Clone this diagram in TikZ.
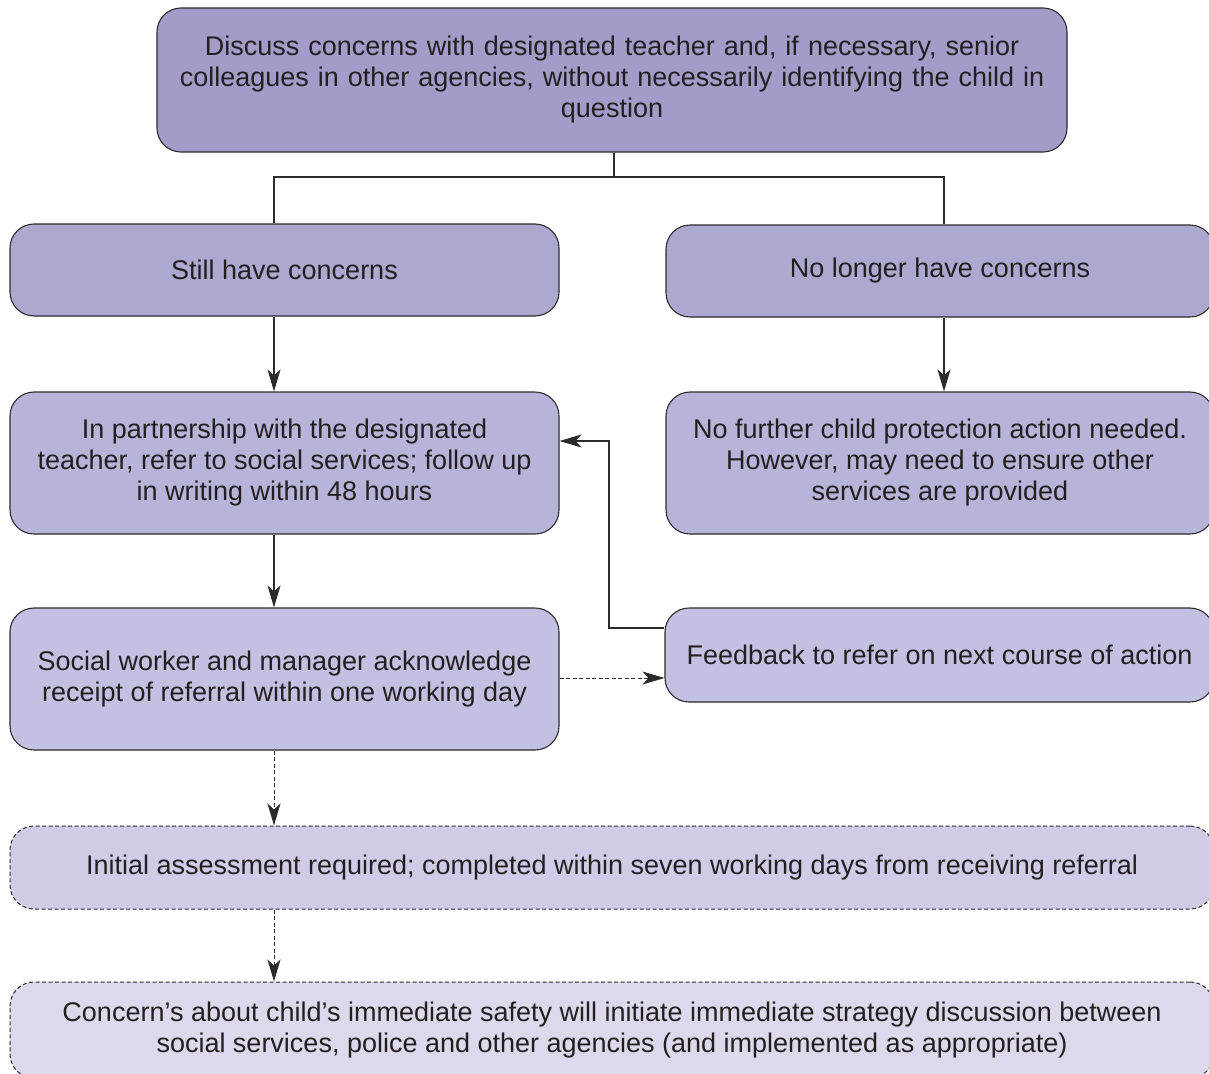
\documentclass[tikz,border=0pt]{standalone}
\usepackage{fontspec}
\setmainfont{Liberation Sans}
\usetikzlibrary{arrows.meta}
\definecolor{c1}{RGB}{163,156,200}
\definecolor{c2}{RGB}{173,168,208}
\definecolor{c3}{RGB}{184,180,217}
\definecolor{c4}{RGB}{196,192,225}
\definecolor{c5}{RGB}{208,204,231}
\definecolor{c6}{RGB}{220,217,237}
\definecolor{txt}{RGB}{35,31,32}
\definecolor{edge}{RGB}{45,42,45}
\begin{document}
\begin{tikzpicture}[x=1pt,y=-1pt,
  box/.style={draw=edge,line width=1.1pt,rounded corners=24pt,inner sep=0pt,
    text=txt,align=center,font=\fontsize{27}{31}\selectfont},
  dbox/.style={box,dash pattern=on 4pt off 2.5pt,line width=1pt},
  conn/.style={draw=edge,line width=1.1pt},
  arr/.style={conn,-{Stealth[length=22pt,width=13pt,inset=6pt]}},
  darr/.style={arr,dash pattern=on 4pt off 2.5pt,line width=1pt}]
\clip (0,0) rectangle (1209,1073);
\useasboundingbox (0,0) rectangle (1209,1073);
\fill[white] (0,0) rectangle (1209,1073);
% boxes
\node[box,fill=c1,minimum width=910pt,minimum height=144pt,text width=880pt] (top) at (612,80)
  {Discuss concerns with designated teacher and, if necessary, senior\\colleagues in other agencies, without necessarily identifying the child in\\question};
\node[box,fill=c2,minimum width=549pt,minimum height=92pt] (still) at (284.5,270) {Still have concerns};
\node[box,fill=c2,minimum width=548pt,minimum height=92pt] (nolong) at (940,271) {No longer have concerns};
\node[box,fill=c3,minimum width=549pt,minimum height=142pt] (partner) at (284.5,463)
  {In partnership with the designated\\teacher, refer to social services; follow up\\in writing within 48 hours};
\node[box,fill=c3,minimum width=548pt,minimum height=142pt] (nofurther) at (940,463)
  {No further child protection action needed.\\However, may need to ensure other\\services are provided};
\node[box,fill=c4,minimum width=549pt,minimum height=142pt] (social) at (284.5,679)
  {Social worker and manager acknowledge\\receipt of referral within one working day};
\node[box,fill=c4,minimum width=549pt,minimum height=94pt] (feedback) at (939.5,655)
  {Feedback to refer on next course of action};
\node[dbox,fill=c5,minimum width=1204pt,minimum height=83pt] (initial) at (612,867.5)
  {Initial assessment required; completed within seven working days from receiving referral};
\node[dbox,fill=c6,minimum width=1204pt,minimum height=96pt] (concern) at (612,1030)
  {Concern’s about child’s immediate safety will initiate immediate strategy discussion between\\social services, police and other agencies (and implemented as appropriate)};
% connectors
\coordinate (split) at (614,177);
\draw[conn] (top.south -| split) -- (split);
\draw[conn] (split) -- (274,177) -- (still.north -| 274,0);
\draw[conn] (split) -- (944,177) -- (nolong.north -| 944,0);
\draw[arr] (still.south -| 274,0) -- (partner.north -| 274,0);
\draw[arr] (nolong.south -| 944,0) -- (nofurther.north -| 944,0);
\draw[arr] (partner.south -| 274,0) -- (social.north -| 274,0);
\draw[arr] (feedback.west |- 0,628) -- (609,628) -- (609,441) -- (partner.east |- 0,441);
\draw[darr] (social.east |- 0,678) -- (feedback.west |- 0,678);
\draw[darr] (social.south -| 274,0) -- (initial.north -| 274,0);
\draw[darr] (initial.south -| 274,0) -- (concern.north -| 274,0);
\end{tikzpicture}
\end{document}
